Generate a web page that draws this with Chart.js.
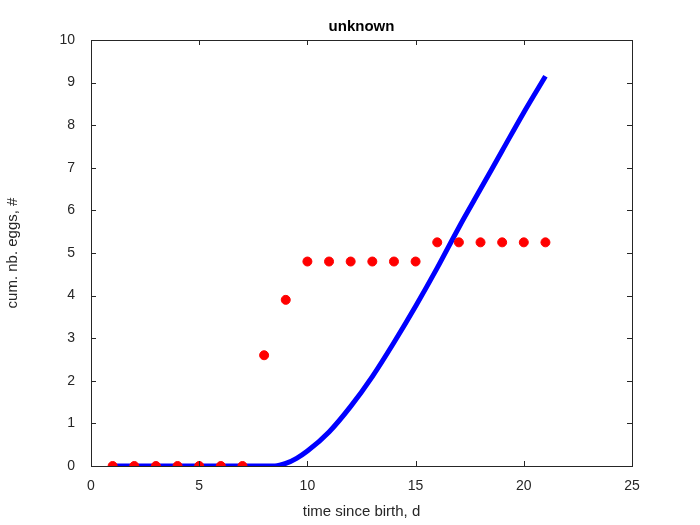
<!DOCTYPE html>
<html><head><meta charset="utf-8">
<script src="https://cdn.jsdelivr.net/npm/chart.js@4"></script>
<style>html,body{margin:0;background:#fff}#wrap{width:700px;height:525px}</style>
</head><body><div id="wrap"><canvas id="c"></canvas></div>
<script>
// data
const obsT    = [1, 2, 3, 4, 5, 6, 7, 8, 9, 10, 11, 12, 13, 14, 15, 16, 17, 18, 19, 20, 21];
const obsEggs = [0, 0, 0, 0, 0, 0, 0, 2.6, 3.9, 4.8, 4.8, 4.8, 4.8, 4.8, 4.8, 5.25, 5.25, 5.25, 5.25, 5.25, 5.25];
const fitT    = [1, 8.5, 9, 9.5, 10, 11, 12, 13, 14, 15, 16, 17, 18, 19, 20, 21];
const fitEggs = [0, 0, 0.06, 0.18, 0.35, 0.8, 1.4, 2.1, 2.9, 3.75, 4.65, 5.6, 6.5, 7.4, 8.3, 9.15];
const xTicks  = [0, 5, 10, 15, 20, 25];
const yTicks  = [0, 1, 2, 3, 4, 5, 6, 7, 8, 9, 10];

const font = "'Liberation Sans', Arial, sans-serif";
const ink = "#262626";

// MATLAB-like box, inward ticks and title
const matlabBox = {
  id: "matlabBox",
  afterDraw(chart) {
    const { ctx, chartArea: a, scales: { x, y } } = chart;
    ctx.save();
    ctx.strokeStyle = ink;
    ctx.lineWidth = 1;
    ctx.strokeRect(a.left + 0.5, a.top + 0.5, a.right - a.left, a.bottom - a.top);
    ctx.beginPath();
    xTicks.forEach(v => {
      const px = Math.round(x.getPixelForValue(v)) + 0.5;
      ctx.moveTo(px, a.bottom); ctx.lineTo(px, a.bottom - 5);
      ctx.moveTo(px, a.top); ctx.lineTo(px, a.top + 5);
    });
    yTicks.forEach(v => {
      const py = Math.round(y.getPixelForValue(v)) + 0.5;
      ctx.moveTo(a.left, py); ctx.lineTo(a.left + 5, py);
      ctx.moveTo(a.right, py); ctx.lineTo(a.right - 5, py);
    });
    ctx.stroke();
    ctx.fillStyle = "#000";
    ctx.font = "bold 15px " + font;
    ctx.textAlign = "center";
    ctx.fillText("unknown", (a.left + a.right) / 2, a.top - 9);
    ctx.restore();
  }
};

new Chart(document.getElementById("c"), {
  type: "scatter",
  data: {
    datasets: [
      {
        data: fitT.map((t, i) => ({ x: t, y: fitEggs[i] })),
        showLine: true, borderColor: "#0000ff", borderWidth: 5,
        pointRadius: 0, tension: 0.4, cubicInterpolationMode: "monotone", order: 2
      },
      {
        data: obsT.map((t, i) => ({ x: t, y: obsEggs[i] })),
        backgroundColor: "#ff0000", borderColor: "#ff0000",
        pointRadius: 4.5, order: 1
      }
    ]
  },
  options: {
    responsive: true, maintainAspectRatio: false, animation: false,
    layout: { padding: { top: 40, right: 68, left: 0, bottom: 0 } },
    plugins: { legend: { display: false }, tooltip: { enabled: false } },
    scales: {
      x: {
        type: "linear", min: 0, max: 25,
        afterFit: s => { s.height = 59; },
        afterBuildTicks: s => { s.ticks = xTicks.map(v => ({ value: v })); },
        grid: { display: false }, border: { display: false },
        ticks: { color: ink, font: { family: font, size: 14 }, padding: 4 },
        title: { display: true, text: "time since birth, d", color: ink,
                 font: { family: font, size: 15 }, padding: { top: 4 } }
      },
      y: {
        min: 0, max: 10,
        afterFit: s => { s.width = 91; },
        afterBuildTicks: s => { s.ticks = yTicks.map(v => ({ value: v })); },
        grid: { display: false }, border: { display: false },
        ticks: { color: ink, font: { family: font, size: 14 }, padding: 8 },
        title: { display: true, text: "cum. nb. eggs, #", color: ink,
                 font: { family: font, size: 15 }, padding: { bottom: 6 } }
      }
    }
  },
  plugins: [matlabBox]
});
</script>
</body></html>
